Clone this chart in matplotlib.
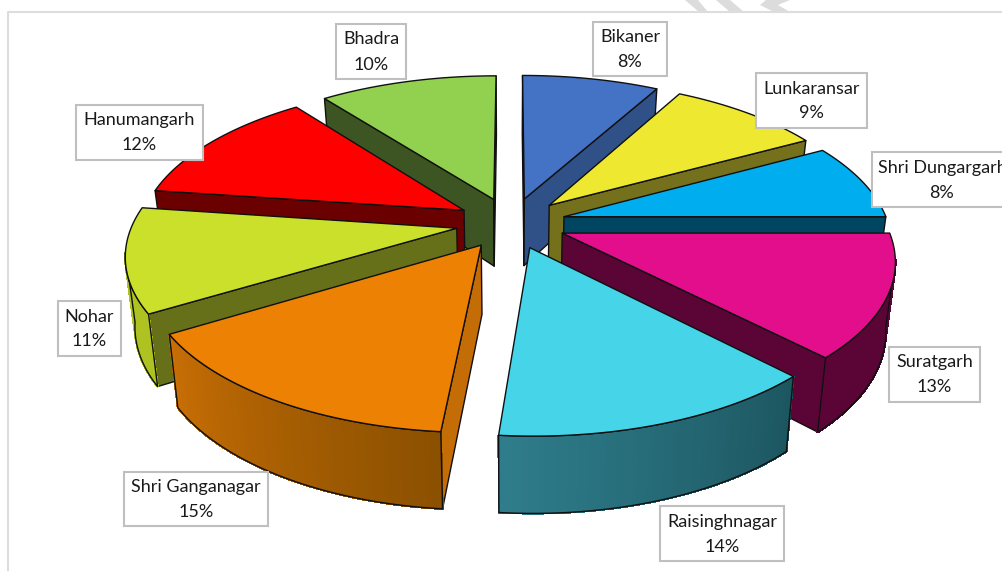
import numpy as np
import matplotlib
matplotlib.use('Agg')
import matplotlib.pyplot as plt
from matplotlib.patches import Polygon, Rectangle

names = ['Bikaner', 'Lunkaransar', 'Shri Dungargarh', 'Suratgarh', 'Raisinghnagar',
         'Shri Ganganagar', 'Nohar', 'Hanumangarh', 'Bhadra']
# labels only show whole percents, decimals estimated from the slice edges
values = [8.0, 9.0, 8.0, 12.8, 13.6, 14.9, 10.9, 12.4, 10.4]

top_colors = ['#4472C4', '#EEE930', '#00AEEF', '#E20E8C', '#45D4E8',
              '#ED8103', '#CBE02A', '#FF0000', '#92D050']
cut_colors = ['#2F5188', '#74701C', '#004660', '#5A0536', '#1D5660',
              '#C46C05', '#667018', '#6B0000', '#3C5522']
wall_right = ['#2F5188', '#74701C', '#004660', '#5A0536', '#1C5660',
              '#8A5000', '#AEC322', '#6B0000', '#3C5522']
wall_left = ['#2F5188', '#74701C', '#004660', '#5A0536', '#2F7D8C',
             '#C86E05', '#AEC322', '#6B0000', '#3C5522']

# label box layout: left, top, right, bottom in pixels
label_boxes = [(593, 22, 667, 76), (756, 73, 867, 128), (872, 152, 1012, 207),
               (889, 347, 980, 402), (660, 506, 784, 561), (124, 472, 268, 526),
               (58, 301, 121, 356), (76, 105, 203, 160), (336, 24, 406, 79)]

# projection of the tilted pie
cx, cy = 511, 223
radius_x, radius_y = 324, 150
persp = 0.158
explode = 0.17
depth = 68
shrink = 0.975


def project(X, Y):
    s = 1 / (1 + persp * Y)
    return cx + radius_x * X * s, cy - radius_y * Y * s


def bottom(X, Y):
    x, y = project(X, Y)
    return cx + (x - cx) * shrink, y + depth - 8 * Y


def plane(a, mid):
    # a = clockwise angle from 12 o'clock, slices pushed out along mid angle
    ox, oy = explode * np.sin(mid), explode * np.cos(mid)
    return ox + np.sin(a), oy + np.cos(a)


fig = plt.figure(figsize=(10.02, 5.71), dpi=100)
ax = fig.add_axes([0, 0, 1, 1])
ax.set_xlim(0, 1002)
ax.set_ylim(571, 0)
ax.axis('off')

# page frame and the bit of watermark above it
ax.plot([8, 8, 1002], [571, 12, 12], color='#DDDDDD', lw=1.5)
for xs, ys in [([685, 698, 708, 699], [0, 0, 12, 12]),
               ([716, 730, 744, 730], [0, 0, 12, 12]),
               ([766, 790, 778, 790, 774, 760], [0, 0, 5, 12, 12, 5])]:
    ax.add_patch(Polygon(np.column_stack([xs, ys]), fc='#DCDCDC', ec='none'))

total = sum(values)
edges = np.cumsum([0] + values) / total * 2 * np.pi
slices = []
for i in range(len(values)):
    mid = (edges[i] + edges[i + 1]) / 2
    slices.append((-np.cos(mid), i, mid))
slices.sort(key=lambda t: t[0])

line = dict(ec='#101010', lw=1.0, joinstyle='round')
for _, i, mid in slices:
    a0, a1 = edges[i], edges[i + 1]
    angles = np.linspace(a0, a1, 61)
    apex = explode * np.sin(mid), explode * np.cos(mid)
    px, py = plane(angles, mid)
    tx, ty = project(px, py)
    bx, by = bottom(px, py)
    ax0, ay0 = project(*apex)
    bx0, by0 = bottom(*apex)
    mx, my = tx[30], ty[30]

    # the two cut faces, only where they face the viewer
    for k in (0, -1):
        dx = tx[k] - ax0
        if abs(dx) < 1:
            continue
        edge_y = ay0 + (ty[k] - ay0) * (mx - ax0) / dx
        if my < edge_y:
            quad = [(ax0, ay0), (tx[k], ty[k]), (bx[k], by[k]), (bx0, by0)]
            ax.add_patch(Polygon(quad, fc=cut_colors[i], **line))

    # outer wall, front part only, shading runs across it
    vis = np.cos(angles) < -0.15
    if vis.sum() > 1:
        c0 = np.array(matplotlib.colors.to_rgb(wall_right[i]))
        c1 = np.array(matplotlib.colors.to_rgb(wall_left[i]))
        wx, wy, wbx, wby = tx[vis], ty[vis], bx[vis], by[vis]
        wall = np.column_stack([np.r_[wx, wbx[::-1]], np.r_[wy, wby[::-1]]])
        ax.add_patch(Polygon(wall, fc=(c0 + c1) / 2, ec='none'))
        n = len(wx)
        for j in range(n - 1):
            f = (j + 0.5) / (n - 1)
            quad = [(wx[j], wy[j]), (wx[j + 1], wy[j + 1]), (wbx[j + 1], wby[j + 1]), (wbx[j], wby[j])]
            col = c0 + (c1 - c0) * f
            ax.add_patch(Polygon(quad, fc=col, ec=col, lw=1.0, antialiased=False))
        ax.add_patch(Polygon(wall, fill=False, **line))

    top = np.column_stack([np.r_[ax0, tx], np.r_[ay0, ty]])
    ax.add_patch(Polygon(top, fc=top_colors[i], **line))

for i, (l, t, r, b) in enumerate(label_boxes):
    ax.add_patch(Rectangle((l, t), r - l, b - t, fc='white', ec='#BFBFBF', lw=1.5, zorder=5))
    ax.text((l + r) / 2, (t + b) / 2 - 12, names[i], ha='center', va='center',
            family='Lato', fontsize=13, color='#1a1a1a', zorder=6)
    ax.text((l + r) / 2, (t + b) / 2 + 13, f'{values[i]:.0f}%', ha='center', va='center',
            family='Lato', fontsize=13, color='#1a1a1a', zorder=6)

fig.savefig('out.png', dpi=100)
